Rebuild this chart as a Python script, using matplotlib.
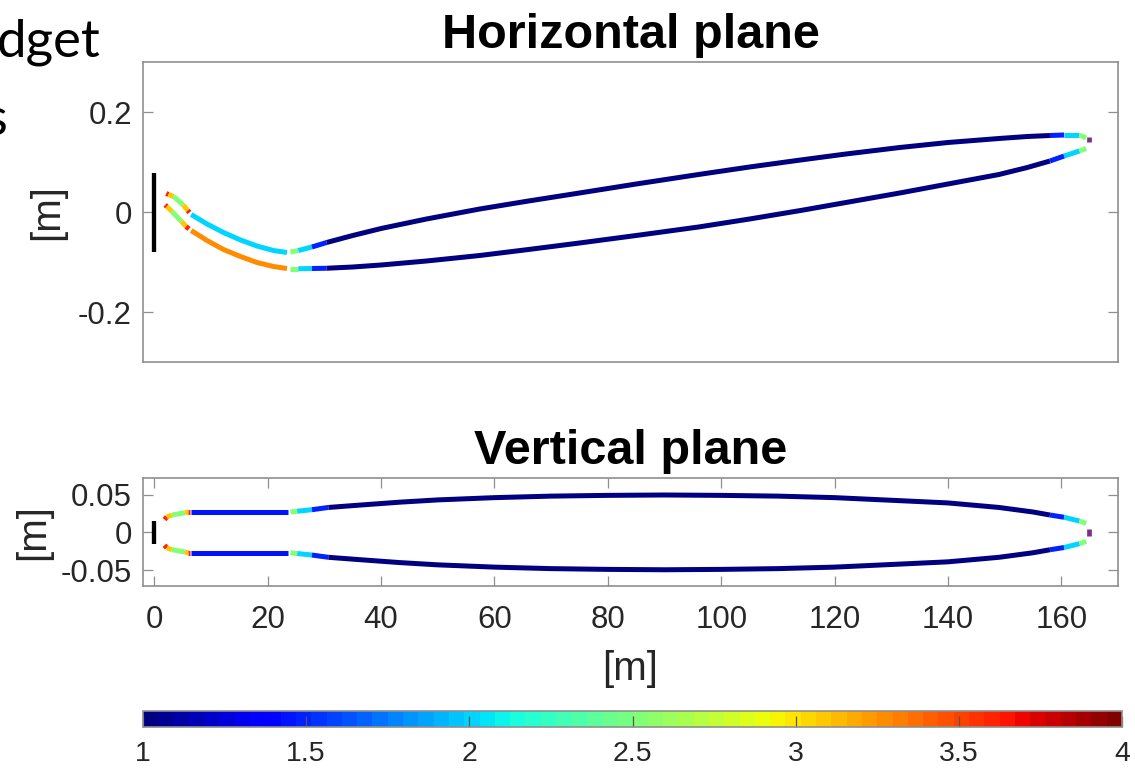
import matplotlib

matplotlib.use("Agg")
import matplotlib.pyplot as plt
import numpy as np
from matplotlib.cm import ScalarMappable
from matplotlib.collections import LineCollection
from matplotlib.colors import Normalize

plt.rcParams["font.family"] = ["Liberation Sans", "DejaVu Sans"]
plt.rcParams["axes.unicode_minus"] = False

# horizontal plane, outer (upper) and inner (lower) track, colour value per segment
h_upper_x = [2.1, 2.5, 3.4, 5.1, 5.9, 6.2, 6.5, 9.3, 12.2, 15.2, 18.1, 21.0, 23.4, 24.0, 25.4, 27.8,
             30.4, 35, 40, 48, 57.4, 66, 75, 85, 96, 105, 114, 122, 131.5, 140, 149, 154, 158,
             160.5, 163.2, 164.4]
h_upper_y = [0.037, 0.035, 0.031, 0.014, 0.003, -0.001, -0.005, -0.024, -0.041, -0.056, -0.068,
             -0.077, -0.081, -0.080, -0.077, -0.070, -0.061, -0.047, -0.033, -0.014, 0.006, 0.022,
             0.038, 0.056, 0.075, 0.090, 0.104, 0.116, 0.129, 0.139, 0.147, 0.151, 0.153, 0.154,
             0.154, 0.148]
h_upper_c = [3.6, 3.1, 2.5, 3.1, 3.6, None, 2.0, 2.0, 2.0, 2.0, 2.0, 2.0, None, 2.5, 2.0, 1.5,
             1.0, 1.0, 1.0, 1.0, 1.0, 1.0, 1.0, 1.0, 1.0, 1.0, 1.0, 1.0, 1.0, 1.0, 1.0, 1.0,
             1.5, 2.0, 2.5]

h_lower_x = [1.9, 2.2, 3.1, 4.8, 5.6, 6.1, 6.5, 9.3, 12.2, 15.2, 18.1, 21.0, 23.4, 24.0, 25.4, 27.8,
             30.4, 35, 40, 48, 57.4, 66, 75, 85, 96, 105, 114, 122, 131.5, 140, 149, 154, 158,
             160.5, 163.2, 164.4]
h_lower_y = [0.014, 0.011, 0.001, -0.019, -0.029, -0.034, -0.037, -0.057, -0.075, -0.089, -0.101,
             -0.109, -0.113, -0.1135, -0.1135, -0.113, -0.1125, -0.110, -0.106, -0.098, -0.087,
             -0.075, -0.062, -0.047, -0.030, -0.014, 0.003, 0.019, 0.038, 0.056, 0.075, 0.089,
             0.102, 0.112, 0.122, 0.127]
h_lower_c = [3.6, 3.1, 2.5, 3.1, 3.6, None, 3.25, 3.25, 3.25, 3.25, 3.25, 3.25, None, 2.5, 2.0, 1.5,
             1.0, 1.0, 1.0, 1.0, 1.0, 1.0, 1.0, 1.0, 1.0, 1.0, 1.0, 1.0, 1.0, 1.0, 1.0, 1.0,
             1.5, 2.0, 2.5]

# vertical plane
v_x = [1.8, 2.2, 3.1, 5.4, 6.0, 6.3, 6.5, 23.5, 24.0, 25.2, 27.8, 30.7, 36, 43.3, 50, 60, 70, 80,
       90, 100, 110, 120, 131.5, 140, 149, 155, 158, 160.5, 163.2, 164.4]
v_upper_y = [0.017, 0.0205, 0.023, 0.026, 0.027, 0.027, 0.027, 0.027, 0.027, 0.028, 0.030, 0.033,
             0.036, 0.040, 0.043, 0.046, 0.048, 0.049, 0.0495, 0.049, 0.048, 0.046, 0.042, 0.039,
             0.033, 0.027, 0.023, 0.020, 0.015, 0.012]
v_lower_y = [-0.017, -0.0205, -0.023, -0.026, -0.027, -0.027, -0.027, -0.027, -0.027, -0.028,
             -0.030, -0.033, -0.036, -0.040, -0.043, -0.046, -0.048, -0.049, -0.0495, -0.049,
             -0.048, -0.046, -0.042, -0.039, -0.033, -0.027, -0.023, -0.020, -0.015, -0.012]
v_c = [3.6, 3.1, 2.5, 3.1, 3.6, None, 1.45, None, 2.5, 2.0, 1.5,
       1.0, 1.0, 1.0, 1.0, 1.0, 1.0, 1.0, 1.0, 1.0, 1.0, 1.0, 1.0, 1.0, 1.0, 1.0,
       1.5, 2.0, 2.5]

# start aperture (black) and end marker (purple), extents in m
aperture_x = 0.0
aperture_h = [-0.079, 0.079]
aperture_v = [-0.015, 0.015]
marker_x = 164.9
marker_h = [0.141, 0.151]
marker_v = [-0.005, 0.005]

xlim = (-2, 170)
x_ticks = [0, 20, 40, 60, 80, 100, 120, 140, 160]
h_ticks = [-0.2, 0, 0.2]
h_tick_labels = ["-0.2", "0", "0.2"]
v_ticks = [-0.05, 0, 0.05]
v_tick_labels = ["-0.05", "0", "0.05"]
cbar_ticks = [1, 1.5, 2, 2.5, 3, 3.5, 4]
cbar_tick_labels = ["1", "1.5", "2", "2.5", "3", "3.5", "4"]

CMAP = plt.get_cmap("jet", 64)
NORM = Normalize(1, 4)
TXT = "#262626"
EDGE = "#8f8f8f"
W, H = 1135, 769


def draw_track(ax, xs, ys, cs):
    # join consecutive segments of the same colour into one polyline
    runs, vals = [], []
    cur, cur_c = None, None
    for i, c in enumerate(cs):
        if c is None:
            if cur:
                runs.append(cur)
                vals.append(cur_c)
            cur, cur_c = None, None
            continue
        if cur is not None and c == cur_c:
            cur.append((xs[i + 1], ys[i + 1]))
        else:
            if cur:
                runs.append(cur)
                vals.append(cur_c)
            cur = [(xs[i], ys[i]), (xs[i + 1], ys[i + 1])]
            cur_c = c
    if cur:
        runs.append(cur)
        vals.append(cur_c)
    lc = LineCollection(runs, cmap=CMAP, norm=NORM, linewidths=3.6,
                        capstyle="butt", joinstyle="round")
    lc.set_array(np.array(vals))
    ax.add_collection(lc)


def style_axes(ax, show_x):
    for sp in ax.spines.values():
        sp.set_color(EDGE)
        sp.set_linewidth(1.2)
    ax.tick_params(axis="y", direction="in", length=7, width=0.9, color=EDGE,
                   labelcolor=TXT, labelsize=22.5, left=True, right=True, pad=8)
    if show_x:
        ax.tick_params(axis="x", direction="in", length=7, width=0.9, color=EDGE,
                       labelcolor=TXT, labelsize=22.5, top=True, bottom=True, pad=14)
    else:
        ax.tick_params(axis="x", bottom=False, labelbottom=False)


fig = plt.figure(figsize=(W / 100, H / 100), dpi=100)
ax_h = fig.add_axes([143 / W, 1 - 362 / H, 975 / W, 300 / H])
ax_v = fig.add_axes([143 / W, 1 - 586 / H, 975 / W, 108 / H])

draw_track(ax_h, h_upper_x, h_upper_y, h_upper_c)
draw_track(ax_h, h_lower_x, h_lower_y, h_lower_c)
ax_h.plot([aperture_x, aperture_x], aperture_h, color="black", lw=3.1, solid_capstyle="butt")
ax_h.plot([marker_x, marker_x], marker_h, color="#7E2F8E", lw=3.4, solid_capstyle="butt")
ax_h.set_xlim(*xlim)
ax_h.set_ylim(-0.3, 0.3)
ax_h.set_yticks(h_ticks, h_tick_labels)
ax_h.set_xticks([])
style_axes(ax_h, show_x=False)
ax_h.set_title("Horizontal plane", fontsize=35, fontweight="bold", pad=10)
ax_h.set_ylabel("[m]", fontsize=29, color=TXT)
ax_h.yaxis.set_label_coords((66 - 143) / 975, 0.5)

draw_track(ax_v, v_x, v_upper_y, v_c)
draw_track(ax_v, v_x, v_lower_y, v_c)
ax_v.plot([aperture_x, aperture_x], aperture_v, color="black", lw=3.1, solid_capstyle="butt")
ax_v.plot([marker_x, marker_x], marker_v, color="#7E2F8E", lw=3.4, solid_capstyle="butt")
ax_v.set_xlim(*xlim)
ax_v.set_ylim(-0.071, 0.072)
ax_v.set_yticks(v_ticks, v_tick_labels)
ax_v.set_xticks(x_ticks)
style_axes(ax_v, show_x=True)
ax_v.set_title("Vertical plane", fontsize=35, fontweight="bold", pad=10)
ax_v.set_ylabel("[m]", fontsize=29, color=TXT)
ax_v.yaxis.set_label_coords((52 - 143) / 975, 0.5)
ax_v.set_xlabel("[m]", fontsize=29, color=TXT)
ax_v.xaxis.set_label_coords(0.5, (586 - 650) / 108)

cax = fig.add_axes([143 / W, 1 - 727 / H, 979 / W, 16 / H])
cb = fig.colorbar(ScalarMappable(norm=NORM, cmap=CMAP), cax=cax, orientation="horizontal",
                  ticks=cbar_ticks)
cb.set_ticklabels(cbar_tick_labels)
cb.outline.set_edgecolor(EDGE)
cb.outline.set_linewidth(1.2)
cb.ax.tick_params(direction="in", length=8, width=0.9, color="#555555",
                  labelcolor=TXT, labelsize=20.5, pad=10)

# slide text cut off at the left edge
fig.text(-3 / W, 1 - 57 / H, "dget", fontsize=38, family=["Lato", "DejaVu Sans"],
         ha="left", va="baseline", color="black")
fig.text(7 / W, 1 - 135 / H, "s", fontsize=38, family=["Lato", "DejaVu Sans"],
         ha="right", va="baseline", color="black")

fig.savefig("out.png", dpi=100)
